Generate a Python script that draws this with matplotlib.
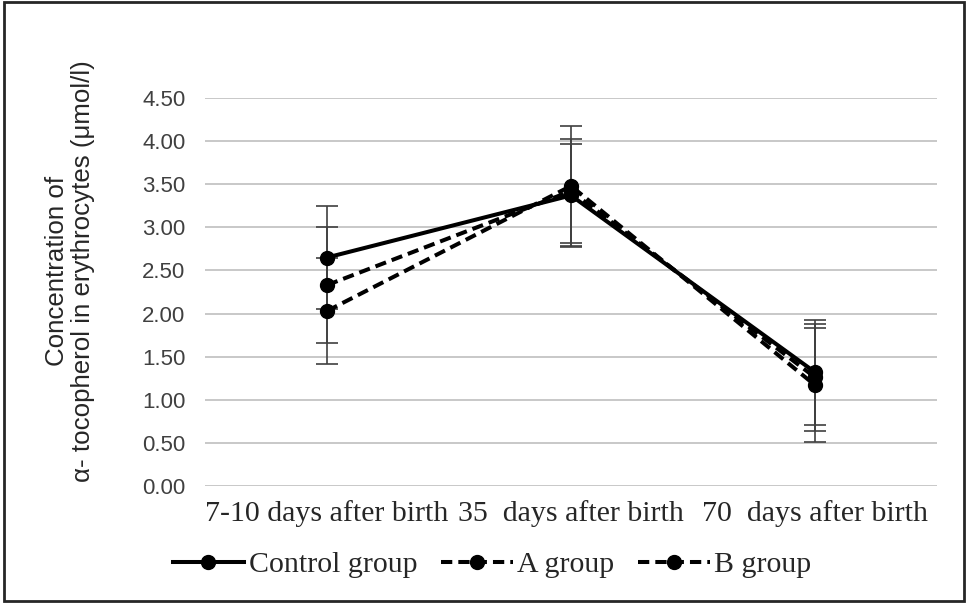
import matplotlib
matplotlib.use('Agg')
import matplotlib.pyplot as plt
from matplotlib.patches import Rectangle
import numpy as np

categories = ['7-10 days after birth', '35  days after birth', '70  days after birth']
control = [2.65, 3.37, 1.32]
group_a = [2.33, 3.42, 1.26]
group_b = [2.03, 3.48, 1.17]
control_err = [0.60, 0.60, 0.61]
a_err = [0.67, 0.60, 0.62]
b_err = [0.61, 0.70, 0.66]
yticks = [0.0, 0.5, 1.0, 1.5, 2.0, 2.5, 3.0, 3.5, 4.0, 4.5]

W, H = 966, 604
fig = plt.figure(figsize=(W / 100, H / 100), dpi=100)
ax = fig.add_axes([205 / W, 1 - 486 / H, (937 - 205) / W, (486 - 98) / H])

x = np.arange(len(categories))
series = [
    (control, control_err, 'Control group', '-'),
    (group_a, a_err, 'A group', (0, (2.8, 1.5))),
    (group_b, b_err, 'B group', (0, (2.8, 1.5))),
]

for vals, err, name, ls in series:
    ax.errorbar(x, vals, yerr=err, fmt='none', ecolor='#404040',
                elinewidth=1.2, capsize=8, capthick=1.2, zorder=2)
for vals, err, name, ls in series:
    ax.plot(x, vals, color='black', linestyle=ls, linewidth=2.9,
            marker='o', markersize=10, label=name, zorder=3)

ax.set_xlim(-0.5, 2.5)
ax.set_ylim(0, 4.5)
ax.set_yticks(yticks)
ax.set_yticklabels([f'{v:.2f}' for v in yticks], family='Liberation Sans',
                   fontsize=16, color='#404040')
ax.set_xticks(x)
ax.set_xticklabels(categories, family='Liberation Serif', fontsize=21.5,
                   color='#262626')
ax.tick_params(axis='both', length=0)
ax.tick_params(axis='y', pad=14)
ax.tick_params(axis='x', pad=10)
ax.grid(axis='y', color='#bfbfbf', linewidth=1.2)
ax.set_axisbelow(True)
for s in ax.spines.values():
    s.set_visible(False)

fig.text(70 / W, 1 - 271 / H,
         'Concentration of\nα- tocopherol in erythrocytes (μmol/l)',
         rotation=90, ha='center', va='center', multialignment='center',
         family='Liberation Sans', fontsize=18.6, color='#262626',
         linespacing=1.1)

leg = fig.legend(loc='center', bbox_to_anchor=(492 / W, 1 - 565 / H), ncol=3,
                 frameon=False, prop={'family': 'Liberation Serif', 'size': 21.5},
                 handlelength=2.4, handletextpad=0.15, columnspacing=0.8,
                 numpoints=1)
for t in leg.get_texts():
    t.set_color('#262626')

fig.patches.append(Rectangle((4 / W, 3 / H), (W - 6) / W, (H - 5) / H,
                             transform=fig.transFigure, fill=False,
                             edgecolor='#262626', linewidth=2))

fig.savefig('out.png', dpi=100)
